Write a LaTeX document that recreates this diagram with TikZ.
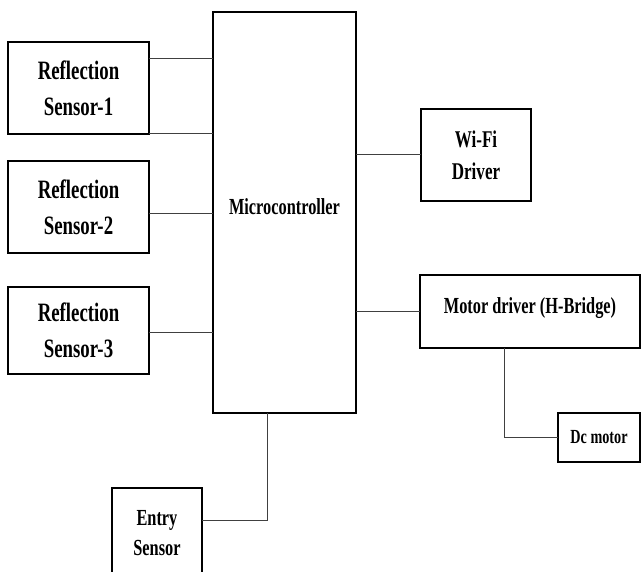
\documentclass[tikz,border=0pt]{standalone}
\usepackage{fontspec}
\setmainfont[FakeStretch=0.71]{Liberation Serif}
\usetikzlibrary{positioning}
\tikzset{
	blk/.style={draw=black, line width=1.5pt, outer sep=0pt, inner sep=0pt, align=center},
	sensor/.style={blk, minimum width=141pt, minimum height=92pt, font=\bfseries\fontsize{26.5}{36}\selectfont},
	wire/.style={draw=black!75, line width=1pt}
}

\begin{document}
\begin{tikzpicture}[x=1pt,y=1pt]
	\useasboundingbox (0,0) rectangle (641,-572);
	\node[blk, minimum width=143pt, minimum height=401pt, font=\bfseries\fontsize{23}{28}\selectfont] (mcu) at (284.5,-212.5) {\raisebox{11pt}{Microcontroller}};
	\node[sensor, below left = 30pt and 64pt of mcu.north west] (s1) {Reflection\\Sensor-1};
	\node[sensor, below = 27pt of s1] (s2) {Reflection\\Sensor-2};
	\node[sensor, below = 34pt of s2, minimum height=87pt] (s3) {Reflection\\Sensor-3};
	\node[blk, minimum width=110pt, minimum height=92pt, font=\bfseries\fontsize{24}{32}\selectfont, below right = 97pt and 65pt of mcu.north east] (wifi) {Wi-Fi\\Driver};
	\node[blk, minimum width=220pt, minimum height=73pt, font=\bfseries\fontsize{23}{28}\selectfont, below right = 263pt and 64pt of mcu.north east] (drv) {\raisebox{11pt}{Motor driver (H-Bridge)}};
	\node[blk, minimum width=82pt, minimum height=49pt, font=\bfseries\fontsize{20}{24}\selectfont, below = 65pt of drv.south east, anchor=north east] (dc) {Dc motor};
	\node[blk, minimum width=90pt, minimum height=90pt, font=\bfseries\fontsize{23}{30}\selectfont, below left = 75pt and 82.5pt of mcu.south] (entry) {Entry\\Sensor};
	\path ([yshift=-17pt]s1.north east) coordinate (s1a);
	\draw[wire] (s1a) -- (s1a -| mcu.west);
	\draw[wire] (s1.south east) -- (s1.south east -| mcu.west);
	\path ([yshift=-7pt]s2.east) coordinate (s2a);
	\draw[wire] (s2a) -- (s2a -| mcu.west);
	\path ([yshift=-2.5pt]s3.east) coordinate (s3a);
	\draw[wire] (s3a) -- (s3a -| mcu.west);
	\draw[wire] (wifi.west) -- (wifi.west -| mcu.east);
	\draw[wire] (drv.west) -- (drv.west -| mcu.east);
	\draw[wire] ([xshift=84pt]drv.south west) |- (dc.west);
	\draw[wire] ([xshift=-17.5pt]mcu.south) |- ([yshift=-33pt]entry.north east);
\end{tikzpicture}
\end{document}
